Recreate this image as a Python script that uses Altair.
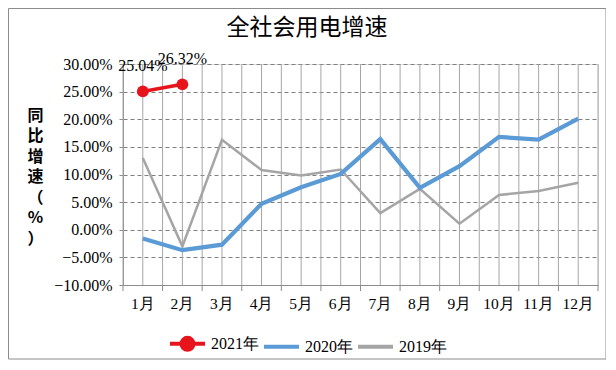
import altair as alt
import pandas as pd

months = ["1月", "2月", "3月", "4月", "5月", "6月", "7月", "8月", "9月", "10月", "11月", "12月"]
series_names = ["2021年", "2020年", "2019年"]
v2021 = [25.04, 26.32]
v2020 = [-1.6, -3.7, -2.7, 4.7, 7.7, 10.1, 16.4, 7.6, 11.5, 16.8, 16.3, 20.1]
v2019 = [13.0, -3.0, 16.3, 10.8, 9.8, 10.9, 3.0, 7.4, 1.1, 6.3, 7.0, 8.5]
colors = ["#E8141B", "#5B9BD5", "#A5A5A5"]
y_ticks = [-10, -5, 0, 5, 10, 15, 20, 25, 30]
title_text = "全社会用电增速"

rows = []
for m, v in zip(months, v2019):
    rows.append({"month": m, "value": v, "series": "2019年"})
for m, v in zip(months, v2020):
    rows.append({"month": m, "value": v, "series": "2020年"})
for m, v in zip(months, v2021):
    rows.append({"month": m, "value": v, "series": "2021年"})
df = pd.DataFrame(rows)
df["label"] = df["value"].map(lambda v: f"{v:.2f}%")
mdf = pd.DataFrame({"month": months})

legend_path = "M-1,0H1M-0.34,0A0.34,0.34,0,1,1,0.34,0A0.34,0.34,0,1,1,-0.34,0Z"

x_scale = alt.Scale(type="band", domain=months, paddingInner=0, paddingOuter=0)
x_axis = alt.Axis(title=None, labelAngle=0, grid=False, ticks=False, domainColor="#8C8C8C",
                  labelPadding=11, labelFont="Liberation Serif", labelFontSize=15.5,
                  labelColor="#000000")
x_enc = alt.X("month:N", sort=months, scale=x_scale, axis=x_axis)
y_scale = alt.Scale(domain=[-10, 30], nice=False, zero=False)
y_axis = alt.Axis(values=y_ticks, labelExpr="format(datum.value, '.2f') + '%'",
                  labelOverlap=False,
                  title=["同", "比", "增", "速", "（", "%", "）"], titleAngle=0,
                  titleX=-88, titleY=43, titleAlign="center", titleBaseline="top",
                  titleFont="Noto Sans CJK SC", titleFontSize=16, titleFontWeight="bold",
                  titleLineHeight=20.5, titleColor="#000000",
                  grid=True, gridColor="#7F7F7F", gridDash=[4, 3], gridWidth=1,
                  domainColor="#8C8C8C", tickColor="#8C8C8C", tickSize=4,
                  labelPadding=7, labelFont="Liberation Serif", labelFontSize=16,
                  labelColor="#000000")
y_enc = alt.Y("value:Q", scale=y_scale, axis=y_axis)

color_scale = alt.Scale(domain=series_names, range=colors)
color_enc = alt.Color("series:N", scale=color_scale, sort=series_names, legend=alt.Legend(title=None))

base_m = alt.Chart(mdf)
center_rules = base_m.mark_rule(color="#A6A6A6", strokeWidth=1).encode(x=x_enc)
edge_rules = base_m.mark_rule(color="#A6A6A6", strokeWidth=1).encode(
    x=alt.X("month:N", sort=months, scale=x_scale, axis=x_axis, bandPosition=0)
)
last_edge = base_m.transform_filter(alt.datum.month == months[-1]).mark_rule(
    color="#A6A6A6", strokeWidth=1
).encode(x=alt.X("month:N", sort=months, scale=x_scale, axis=x_axis, bandPosition=1))
edge_ticks = base_m.mark_rule(color="#8C8C8C", strokeWidth=1).encode(
    x=alt.X("month:N", sort=months, scale=x_scale, axis=x_axis, bandPosition=0),
    y=alt.value(221), y2=alt.value(227)
)
last_tick = base_m.transform_filter(alt.datum.month == months[-1]).mark_rule(
    color="#8C8C8C", strokeWidth=1
).encode(
    x=alt.X("month:N", sort=months, scale=x_scale, axis=x_axis, bandPosition=1),
    y=alt.value(221), y2=alt.value(227)
)


def series_line(name, width):
    return alt.Chart(df).transform_filter(alt.datum.series == name).mark_line(strokeWidth=width).encode(
        x=x_enc, y=y_enc, color=color_enc
    )


line19 = series_line("2019年", 2.5)
line20 = series_line("2020年", 4.2)
line21 = series_line("2021年", 3.5)

points = alt.Chart(df).transform_filter(alt.datum.series == "2021年").mark_point(
    filled=True, size=140, opacity=1, shape="circle"
).encode(x=x_enc, y=y_enc, color=color_enc)

labels = alt.Chart(df).transform_filter(alt.datum.series == "2021年").mark_text(
    dy=-25, font="Liberation Serif", fontSize=16, color="#000000"
).encode(x=x_enc, y=y_enc, text="label:N")

legend_only = alt.Chart(df).transform_filter("false").mark_point(filled=False, strokeWidth=4).encode(
    x=x_enc,
    y=y_enc,
    color=color_enc,
    shape=alt.Shape("series:N", sort=series_names,
                    scale=alt.Scale(domain=series_names, range=[legend_path, "stroke", "stroke"]),
                    legend=alt.Legend(title=None, symbolFillColor="#E8141B", symbolOpacity=1)),
)

title_mark = alt.Chart(pd.DataFrame({"t": [title_text]})).mark_text(
    font="Noto Sans CJK SC", fontSize=23, color="#000000", align="center", baseline="middle"
).encode(text="t:N", x=alt.value(184), y=alt.value(-36))

frame = alt.Chart(pd.DataFrame({"a": [0]})).mark_rect(fill=None, stroke="#8C8C8C", strokeWidth=1).encode(
    x=alt.value(-114.5), x2=alt.value(483), y=alt.value(-55.5), y2=alt.value(295)
)

chart = alt.layer(
    center_rules, edge_rules, last_edge, edge_ticks, last_tick,
    line19, line20, line21, points, labels, legend_only, title_mark, frame
).properties(
    width=475,
    height=221,
    autosize=alt.AutoSizeParams(type="none"),
    padding={"left": 115, "top": 56, "right": 8, "bottom": 76},
).configure_view(stroke=None).configure(background="#FFFFFF").configure_legend(
    orient="none", legendX=45, legendY=260, direction="horizontal", symbolType="stroke",
    symbolSize=1225, symbolStrokeWidth=4, labelFont="Liberation Serif", labelFontSize=16,
    labelColor="#000000", labelOffset=4, columnPadding=-3
)

chart.save("out.html", embed_options={"renderer": "svg", "actions": False})
